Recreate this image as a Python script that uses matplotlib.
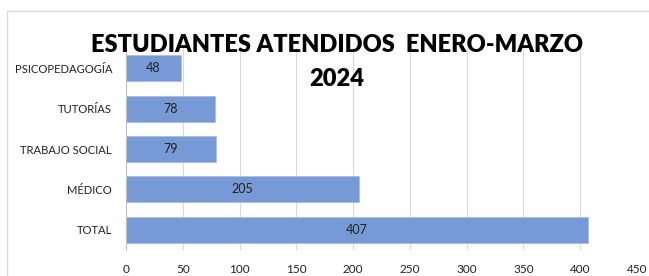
import matplotlib
matplotlib.use("Agg")
import matplotlib.pyplot as plt
from matplotlib.patches import Rectangle

categories = ["PSICOPEDAGOGÍA", "TUTORÍAS", "TRABAJO SOCIAL", "MÉDICO", "TOTAL"]
values = [48, 78, 79, 205, 407]
xticks = [0, 50, 100, 150, 200, 250, 300, 350, 400, 450]
title = "ESTUDIANTES ATENDIDOS  ENERO-MARZO\n2024"

plt.rcParams['font.family'] = ['Lato', 'DejaVu Sans']

fig = plt.figure(figsize=(6.49, 2.76), dpi=100)
fig.patches.append(Rectangle((7/649, -0.1), 1.0, 1 - 11/276 + 0.1, transform=fig.transFigure,
                             fill=False, edgecolor='#d9d9d9', linewidth=1.0))
ax = fig.add_axes([126/649, 1 - 250/276, 511/649, 202/276])

ypos = list(range(len(categories)))
bars = ax.barh(ypos, values, height=0.64, color='#7799D6', edgecolor='#a9bfe6', linewidth=0.6, zorder=2)
for y, v in zip(ypos, values):
    ax.text(v / 2, y, str(v), ha='center', va='center', fontsize=9, color='#222222', zorder=3)

ax.set_yticks(ypos)
ax.set_yticklabels(categories, fontsize=8.1, color='#222222')
ax.set_ylim(len(categories) - 0.5, -0.5)
ax.set_xlim(0, 450)
ax.set_xticks(xticks)
ax.set_xticklabels([str(t) for t in xticks], fontsize=8.5, color='#222222')
ax.tick_params(axis='both', length=0, pad=10)
ax.tick_params(axis='y', pad=10)
ax.grid(axis='x', color='#d9d9d9', linewidth=0.8, zorder=0)
for s in ['top', 'right', 'bottom']:
    ax.spines[s].set_visible(False)
ax.spines['left'].set_color('#bfbfbf')
ax.spines['left'].set_linewidth(0.8)
ax.set_axisbelow(True)

fig.text(337/649, 1 - 62/276, title, ha='center', va='center', fontsize=17, fontweight='heavy',
         color='black', linespacing=1.65)

fig.savefig("out.png", dpi=100)
